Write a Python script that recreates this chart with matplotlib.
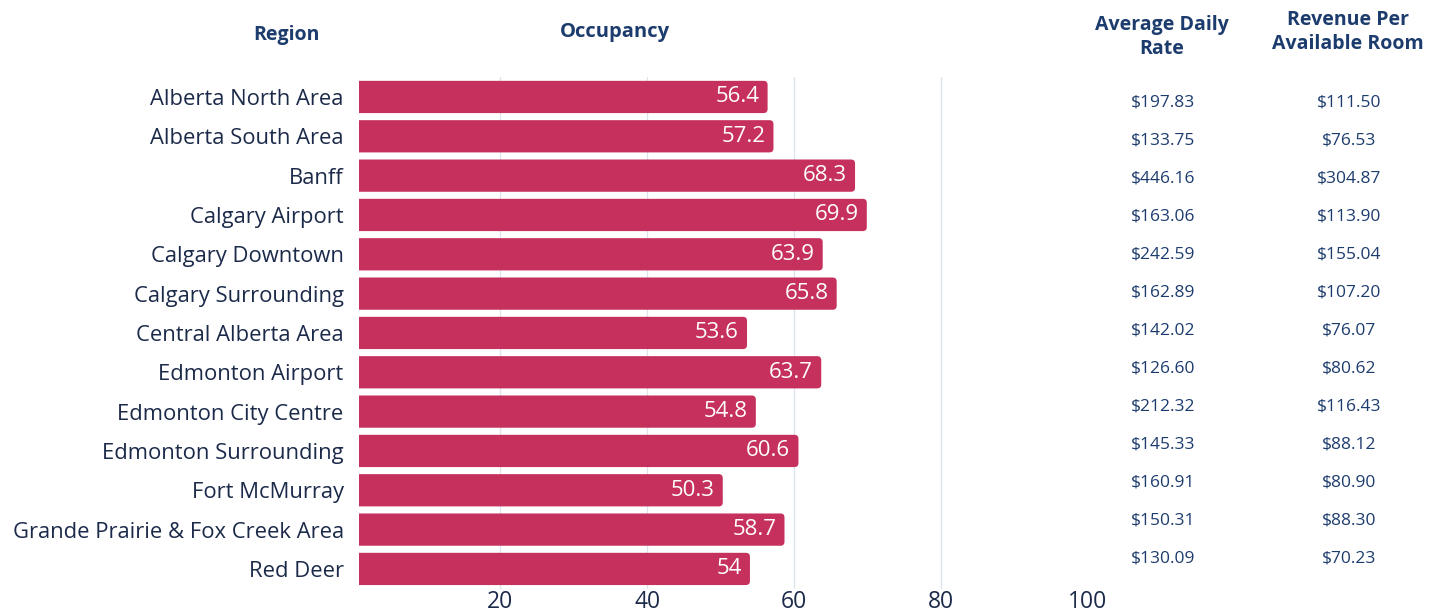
import matplotlib.pyplot as plt
from matplotlib.patches import FancyBboxPatch

plt.rcParams['font.family'] = ['Open Sans', 'DejaVu Sans']

regions = ['Alberta North Area', 'Alberta South Area', 'Banff', 'Calgary Airport',
           'Calgary Downtown', 'Calgary Surrounding', 'Central Alberta Area',
           'Edmonton Airport', 'Edmonton City Centre', 'Edmonton Surrounding',
           'Fort McMurray', 'Grande Prairie & Fox Creek Area', 'Red Deer']
occupancy = [56.4, 57.2, 68.3, 69.9, 63.9, 65.8, 53.6, 63.7, 54.8, 60.6, 50.3, 58.7, 54]
adr = ['$197.83', '$133.75', '$446.16', '$163.06', '$242.59', '$162.89', '$142.02',
       '$126.60', '$212.32', '$145.33', '$160.91', '$150.31', '$130.09']
revpar = ['$111.50', '$76.53', '$304.87', '$113.90', '$155.04', '$107.20', '$76.07',
          '$80.62', '$116.43', '$88.12', '$80.90', '$88.30', '$70.23']

bar_color = '#c5305c'
navy = '#1d3c6e'
dark = '#1c2a4a'

W, H = 1440, 614
fig = plt.figure(figsize=(W / 100, H / 100), dpi=100)

# bar axes, placed in pixels
top, bottom = 77.3, 588.6
ax = fig.add_axes([359 / W, (H - bottom) / H, (1088 - 359) / W, (bottom - top) / H])
y = list(range(len(regions)))
bars = ax.barh(y, occupancy, height=0.82, color=bar_color, zorder=2)
ax.set_xlim(0.8, 100)
ax.set_ylim(len(regions) - 0.5, -0.5)

# swap plain bars for slightly rounded ones
for b in bars:
    x0, y0, w, h = b.get_x(), b.get_y(), b.get_width(), b.get_height()
    b.set_visible(False)
    ax.add_patch(FancyBboxPatch((x0, y0), w, h, boxstyle='round,pad=0,rounding_size=0.55',
                                mutation_aspect=0.185, fc=bar_color, ec='none', zorder=2))

for v in [20, 40, 60, 80]:
    ax.axvline(v, color='#dde3ea', lw=0.9, zorder=1)
for s in ax.spines.values():
    s.set_visible(False)
ax.set_xticks([20, 40, 60, 80, 100])
ax.tick_params(axis='x', length=0, labelsize=16.5, labelcolor=dark, pad=1)
ax.set_yticks(y)
ax.set_yticklabels(regions)
ax.tick_params(axis='y', length=0, labelsize=15.8, labelcolor=dark, pad=11)

for i, v in enumerate(occupancy):
    ax.text(v - 1.1, i, f'{v:g}', ha='right', va='center', color='white',
            fontsize=16, zorder=3)

# table values
tab = fig.add_axes([0, 0, 1, 1], facecolor='none')
tab.axis('off')
tab.set_xlim(0, W)
tab.set_ylim(H, 0)
row0, step = 102, 38
for i in range(len(regions)):
    tab.text(1163, row0 + step * i, adr[i], ha='center', va='center', color=navy, fontsize=12.5)
    tab.text(1349, row0 + step * i, revpar[i], ha='center', va='center', color=navy, fontsize=12.5)

# headers
hdr = dict(ha='center', va='center', color=navy, fontweight='bold', linespacing=1.25)
tab.text(286, 35, 'Region', fontsize=14, **hdr)
tab.text(615, 32, 'Occupancy', fontsize=14.5, **hdr)
tab.text(1162, 37, 'Average Daily\nRate', fontsize=14, **hdr)
tab.text(1348, 32, 'Revenue Per\nAvailable Room', fontsize=14, **hdr)

fig.savefig('out.png', dpi=100)
